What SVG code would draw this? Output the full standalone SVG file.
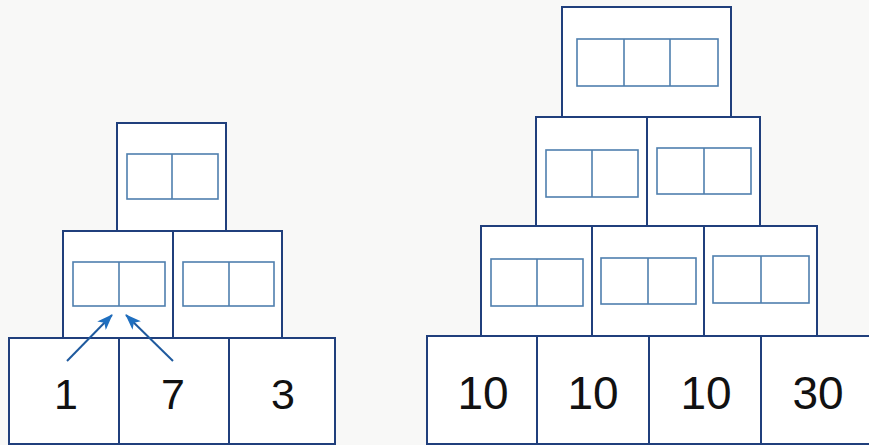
<svg xmlns="http://www.w3.org/2000/svg" width="869" height="445" viewBox="0 0 869 445">
<style>
.bg{fill:#f8f8f7}
.box{fill:#ffffff;stroke:#203f7c;stroke-width:2}
.inner{fill:none;stroke:#4f7fae;stroke-width:1.6}
.num{font-family:"Liberation Sans",Arial,sans-serif;fill:#111111;text-anchor:middle}
.arrow{stroke:#1f5a9e;stroke-width:2;fill:none}
</style>
<defs>
<marker id="ah" markerWidth="16" markerHeight="12" refX="15" refY="6" orient="auto" markerUnits="userSpaceOnUse">
<path d="M0,0 L16,6 L0,12 L4,6 Z" fill="#1f6fc0"/>
</marker>
</defs>
<rect class="bg" x="0" y="0" width="869" height="445"/>

<!-- Left pyramid -->
<g id="L-top">
<rect class="box" x="117" y="123" width="109" height="108"/>
<rect class="inner" x="127" y="154" width="91" height="45"/>
<line class="inner" x1="172" y1="154" x2="172" y2="199"/>
</g>
<g id="L-mid1">
<rect class="box" x="63" y="231" width="110" height="107"/>
<rect class="inner" x="73" y="262" width="92" height="44"/>
<line class="inner" x1="119" y1="262" x2="119" y2="306"/>
</g>
<g id="L-mid2">
<rect class="box" x="173" y="231" width="109" height="107"/>
<rect class="inner" x="183" y="262" width="91" height="44"/>
<line class="inner" x1="229" y1="262" x2="229" y2="306"/>
</g>
<g id="L-b1">
<rect class="box" x="9" y="338" width="110" height="106"/>
<text class="num" x="66" y="409" font-size="43">1</text>
</g>
<g id="L-b2">
<rect class="box" x="119" y="338" width="110" height="106"/>
<text class="num" x="173" y="409" font-size="43">7</text>
</g>
<g id="L-b3">
<rect class="box" x="229" y="338" width="106" height="106"/>
<text class="num" x="283" y="409" font-size="43">3</text>
</g>

<!-- Right pyramid -->
<g id="R-top">
<rect class="box" x="562" y="7" width="169" height="110"/>
<rect class="inner" x="577" y="39" width="141" height="47"/>
<line class="inner" x1="624" y1="39" x2="624" y2="86"/>
<line class="inner" x1="670" y1="39" x2="670" y2="86"/>
</g>
<g id="R-m1">
<rect class="box" x="536" y="117" width="111" height="109"/>
<rect class="inner" x="546" y="150" width="92" height="47"/>
<line class="inner" x1="592" y1="150" x2="592" y2="197"/>
</g>
<g id="R-m2">
<rect class="box" x="647" y="117" width="113" height="109"/>
<rect class="inner" x="657" y="148" width="94" height="46"/>
<line class="inner" x1="704" y1="148" x2="704" y2="194"/>
</g>
<g id="R-r1">
<rect class="box" x="481" y="226" width="111" height="110"/>
<rect class="inner" x="491" y="259" width="92" height="47"/>
<line class="inner" x1="537" y1="259" x2="537" y2="306"/>
</g>
<g id="R-r2">
<rect class="box" x="592" y="226" width="112" height="110"/>
<rect class="inner" x="601" y="258" width="95" height="46"/>
<line class="inner" x1="648" y1="258" x2="648" y2="304"/>
</g>
<g id="R-r3">
<rect class="box" x="704" y="226" width="113" height="110"/>
<rect class="inner" x="713" y="256" width="96" height="47"/>
<line class="inner" x1="761" y1="256" x2="761" y2="303"/>
</g>
<g id="R-b1">
<rect class="box" x="427" y="336" width="110" height="108"/>
<text class="num" x="483" y="409" font-size="46">10</text>
</g>
<g id="R-b2">
<rect class="box" x="537" y="336" width="112" height="108"/>
<text class="num" x="593" y="409" font-size="46">10</text>
</g>
<g id="R-b3">
<rect class="box" x="649" y="336" width="112" height="108"/>
<text class="num" x="706" y="409" font-size="46">10</text>
</g>
<g id="R-b4">
<rect class="box" x="761" y="336" width="112" height="108"/>
<text class="num" x="818" y="409" font-size="46">30</text>
</g>

<g id="connectors">
<line class="arrow" x1="67" y1="361" x2="112" y2="315" marker-end="url(#ah)"/>
<line class="arrow" x1="173" y1="361" x2="126" y2="315" marker-end="url(#ah)"/>
</g>
</svg>
